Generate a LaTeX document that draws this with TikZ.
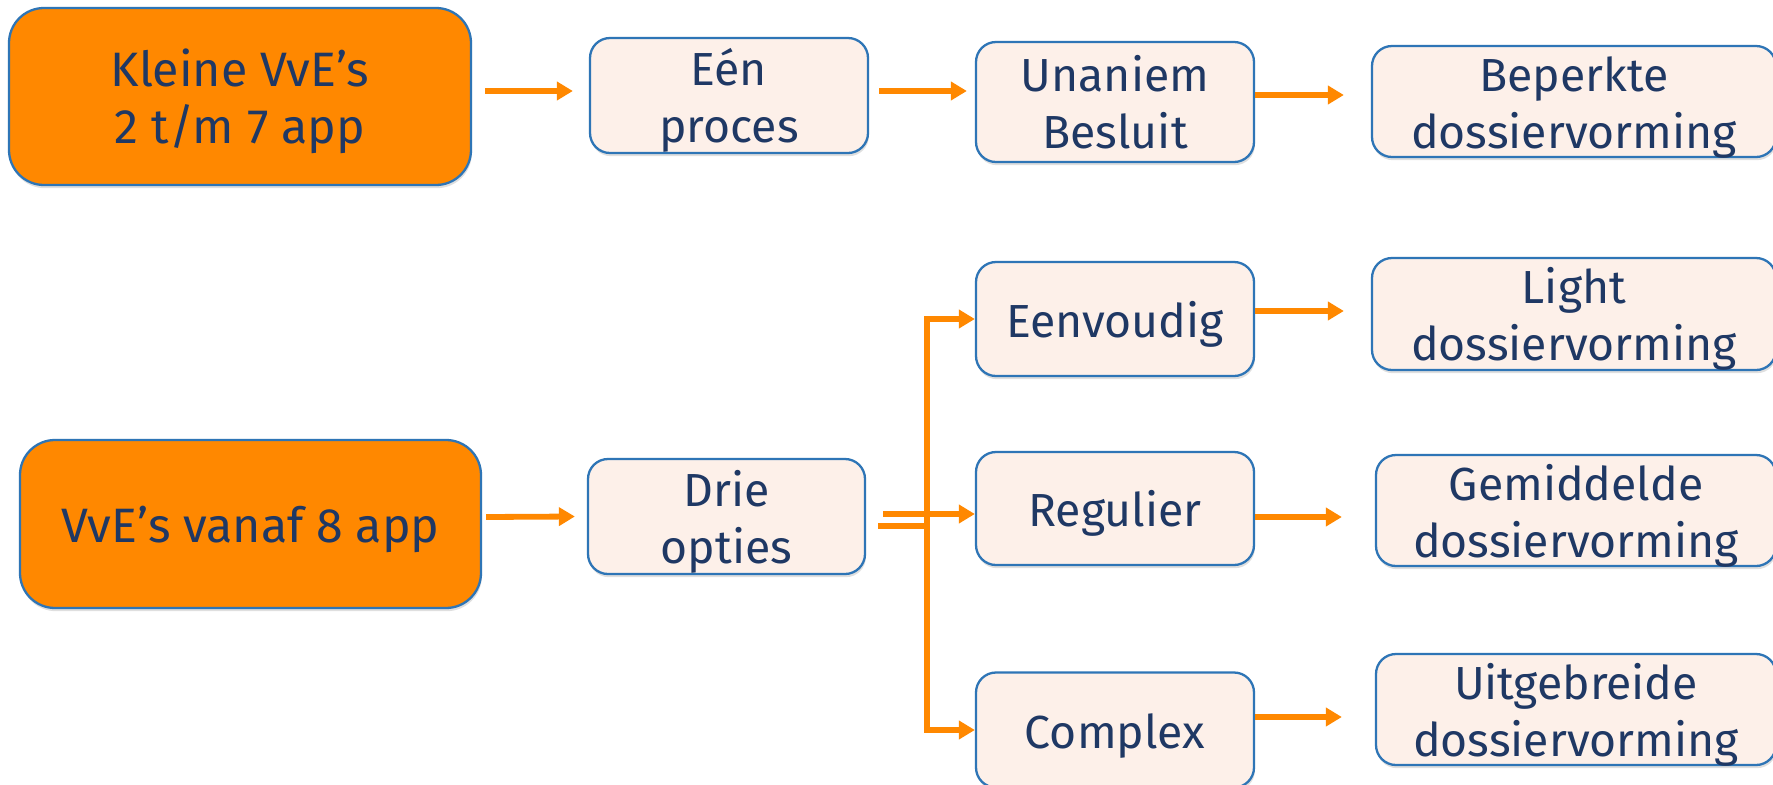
\documentclass[tikz,border=0pt]{standalone}
\usepackage{fontspec}
\setmainfont{Fira Sans}
\usepackage{tikz}
\usetikzlibrary{arrows.meta,shadows}
\definecolor{vveorange}{HTML}{FF8800}
\definecolor{vveblue}{HTML}{2E75B6}
\definecolor{vvecream}{HTML}{FDF0E9}
\definecolor{vvenavy}{HTML}{1F3864}
\newcommand{\vveone}[1]{\raisebox{0pt}[0.72cm][0pt]{#1}}
\newcommand{\vvetwo}[2]{\raisebox{0pt}[1.86cm][0pt]{\begin{tabular}[b]{@{}c@{}}#1\\#2\end{tabular}}}

\begin{document}
\begin{tikzpicture}[
        vvebox/.style={draw=vveblue,line width=1.3pt,rounded corners=0.4cm,fill=vvecream,text=vvenavy,inner sep=0pt,font=\fontsize{26.4}{32.4}\selectfont,drop shadow={shadow xshift=0.5pt,shadow yshift=-1.8pt,opacity=0.25}},
        startbox/.style={vvebox,fill=vveorange,rounded corners=0.7cm,font=\fontsize{27.5}{32.4}\selectfont},
        flow/.style={draw=vveorange,line width=3.3pt,-{Triangle[length=0.32cm,width=0.36cm]}}
    ]
        \fill[white] (0,0) rectangle (35.46,-15.70);
        \useasboundingbox (0,0) rectangle (35.46,-15.70);
        \coordinate (kleine) at (4.80,-1.93);
        \coordinate (een) at (14.58,-1.91);
        \coordinate (unaniem) at (22.30,-2.04);
        \coordinate (beperkte) at (31.48,-2.03);
        \coordinate (vanaf) at (5.01,-10.48);
        \coordinate (drie) at (14.53,-10.33);
        \coordinate (eenvoudig) at (22.30,-6.38);
        \coordinate (regulier) at (22.30,-10.17);
        \coordinate (complex) at (22.30,-14.60);
        \coordinate (light) at (31.48,-6.28);
        \coordinate (gemiddelde) at (31.52,-10.21);
        \coordinate (uitgebreide) at (31.52,-14.19);
        \coordinate (split) at (18.54,-10.52);
        \node[startbox,minimum width=9.24cm,minimum height=3.54cm] (Kleine) at (kleine){\vvetwo{Kleine VvE’s}{2 t/m 7 app}};
        \node[vvebox,minimum width=5.56cm,minimum height=2.30cm] (Een) at (een){\vvetwo{Eén}{proces}};
        \node[vvebox,minimum width=5.56cm,minimum height=2.40cm] (Unaniem) at (unaniem){\vvetwo{Unaniem}{Besluit}};
        \node[vvebox,minimum width=8.08cm,minimum height=2.22cm] (Beperkte) at (beperkte){\vvetwo{Beperkte}{dossiervorming}};
        \node[startbox,minimum width=9.22cm,minimum height=3.36cm] (Vanaf) at (vanaf){\vveone{VvE’s vanaf 8 app}};
        \node[vvebox,minimum width=5.54cm,minimum height=2.30cm] (Drie) at (drie){\vvetwo{Drie}{opties}};
        \node[vvebox,minimum width=5.56cm,minimum height=2.28cm] (Eenvoudig) at (eenvoudig){\vveone{Eenvoudig}};
        \node[vvebox,minimum width=5.56cm,minimum height=2.26cm] (Regulier) at (regulier){\vveone{Regulier}};
        \node[vvebox,minimum width=5.56cm,minimum height=2.30cm] (Complex) at (complex){\vveone{Complex}};
        \node[vvebox,minimum width=8.08cm,minimum height=2.24cm] (Light) at (light){\vvetwo{Light}{dossiervorming}};
        \node[vvebox,minimum width=8.00cm,minimum height=2.22cm] (Gemiddelde) at (gemiddelde){\vvetwo{Gemiddelde}{dossiervorming}};
        \node[vvebox,minimum width=8.00cm,minimum height=2.22cm] (Uitgebreide) at (uitgebreide){\vvetwo{Uitgebreide}{dossiervorming}};
        \draw[flow] ([xshift=0.26cm,yshift=0.11cm]Kleine.east) -- ([xshift=-0.32cm,yshift=0.09cm]Een.west);
        \draw[flow] ([xshift=0.20cm,yshift=0.09cm]Een.east) -- ([xshift=-0.16cm,yshift=0.22cm]Unaniem.west);
        \draw[flow] ([yshift=0.14cm]Unaniem.east) -- ([xshift=-0.54cm,yshift=0.13cm]Beperkte.west);
        \draw[flow] ([xshift=0.08cm,yshift=0.14cm]Vanaf.east) -- ([xshift=-0.24cm]Drie.west);
        \draw[flow] ([xshift=0.24cm,yshift=-0.19cm]Drie.east) -- (split) |- (Eenvoudig.west);
        \draw[flow] (split) |- (Complex.west);
        \draw[flow] ([xshift=0.34cm,yshift=0.05cm]Drie.east) -- ([yshift=-0.11cm]Regulier.west);
        \draw[flow] ([yshift=0.16cm]Eenvoudig.east) -- ([xshift=-0.54cm,yshift=0.06cm]Light.west);
        \draw[flow] ([yshift=-0.17cm]Regulier.east) -- ([xshift=-0.66cm,yshift=-0.13cm]Gemiddelde.west);
        \draw[flow] ([yshift=0.26cm]Complex.east) -- ([xshift=-0.66cm,yshift=-0.15cm]Uitgebreide.west);
    \end{tikzpicture}
\end{document}
